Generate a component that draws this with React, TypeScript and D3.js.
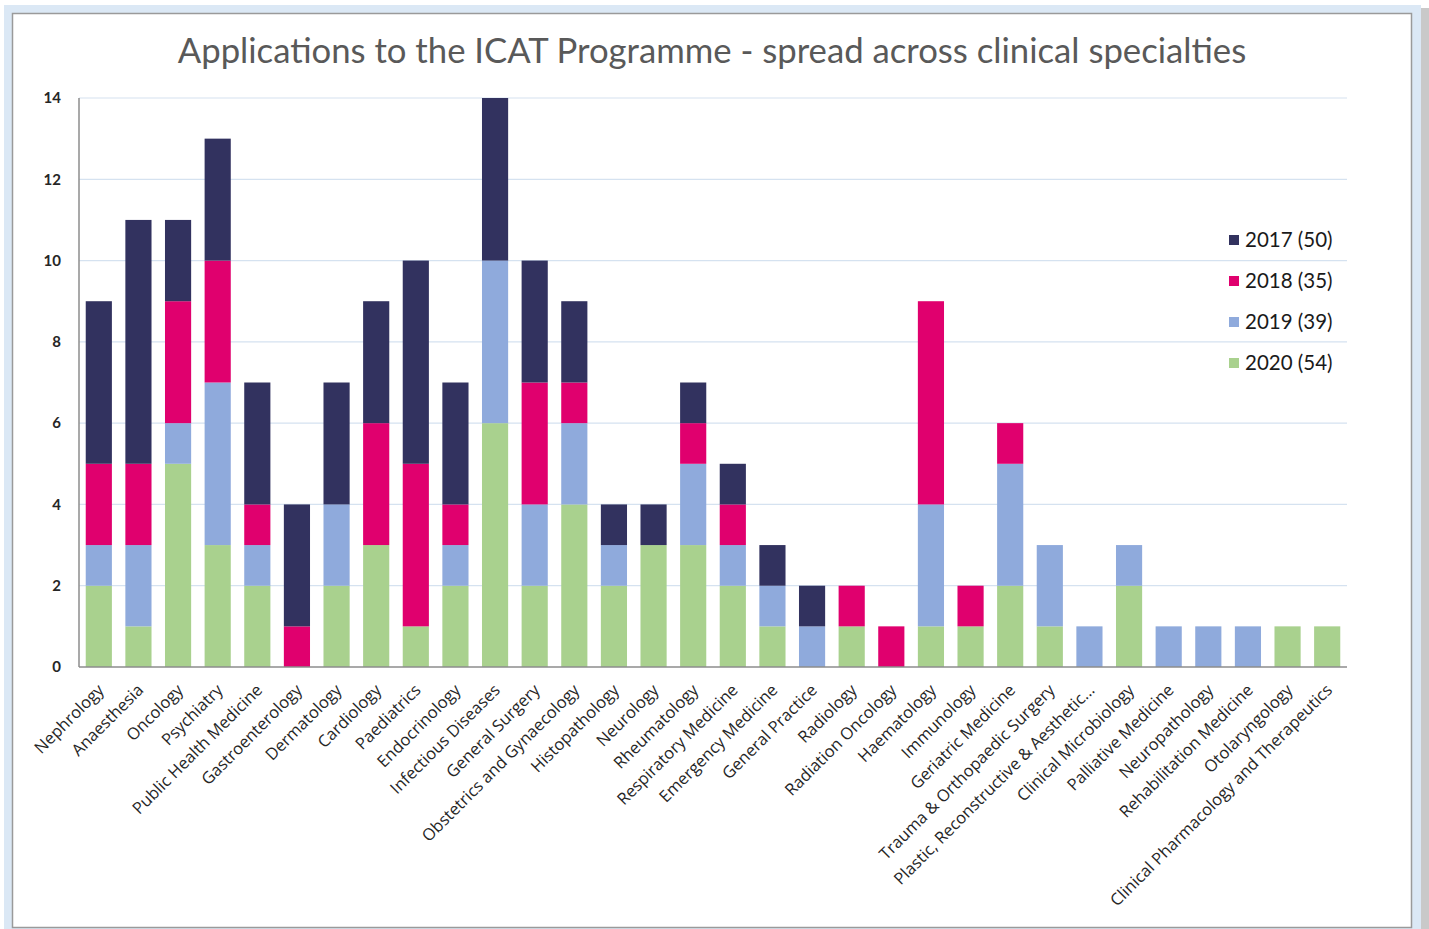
import { useEffect, useRef } from 'react';
import * as d3 from 'd3';

const specialties = [
  'Nephrology', 'Anaesthesia', 'Oncology', 'Psychiatry', 'Public Health Medicine',
  'Gastroenterology', 'Dermatology', 'Cardiology', 'Paediatrics', 'Endocrinology',
  'Infectious Diseases', 'General Surgery', 'Obstetrics and Gynaecology', 'Histopathology',
  'Neurology', 'Rheumatology', 'Respiratory Medicine', 'Emergency Medicine',
  'General Practice', 'Radiology', 'Radiation Oncology', 'Haematology', 'Immunology',
  'Geriatric Medicine', 'Trauma & Orthopaedic Surgery', 'Plastic, Reconstructive & Aesthetic...',
  'Clinical Microbiology', 'Palliative Medicine', 'Neuropathology', 'Rehabilitation Medicine',
  'Otolaryngology', 'Clinical Pharmacology and Therapeutics',
];

// stacked bottom to top: 2020, 2019, 2018, 2017
const y2020 = [2, 1, 5, 3, 2, 0, 2, 3, 1, 2, 6, 2, 4, 2, 3, 3, 2, 1, 0, 1, 0, 1, 1, 2, 1, 0, 2, 0, 0, 0, 1, 1];
const y2019 = [1, 2, 1, 4, 1, 0, 2, 0, 0, 1, 4, 2, 2, 1, 0, 2, 1, 1, 1, 0, 0, 3, 0, 3, 2, 1, 1, 1, 1, 1, 0, 0];
const y2018 = [2, 2, 3, 3, 1, 1, 0, 3, 4, 1, 0, 3, 1, 0, 0, 1, 1, 0, 0, 1, 1, 5, 1, 1, 0, 0, 0, 0, 0, 0, 0, 0];
const y2017 = [4, 6, 2, 3, 3, 3, 3, 3, 5, 3, 4, 3, 2, 1, 1, 1, 1, 1, 1, 0, 0, 0, 0, 0, 0, 0, 0, 0, 0, 0, 0, 0];

const seriesKeys = ['2020', '2019', '2018', '2017'];
const seriesColors = ['#a9d18e', '#8faadc', '#e0006e', '#32325f'];
const legendLabels = ['2017 (50)', '2018 (35)', '2019 (39)', '2020 (54)'];
const legendColors = ['#32325f', '#e0006e', '#8faadc', '#a9d18e'];
const yTicks = [0, 2, 4, 6, 8, 10, 12, 14];

const App = () => {
  const svgRef = useRef<SVGSVGElement>(null);

  useEffect(() => {
    document.body.style.margin = '0';
    if (!svgRef.current) return;

    const W = 1429;
    const H = 929;
    const plot = { left: 79, right: 1347, top: 98, bottom: 667 };

    const svg = d3.select(svgRef.current);
    svg.selectAll('*').remove();
    svg.attr('width', W).attr('height', H);

    // frame
    svg.append('rect').attr('x', 0).attr('y', 0).attr('width', W).attr('height', H).attr('fill', '#ffffff');
    svg.append('rect').attr('x', 1420).attr('y', 8).attr('width', 9).attr('height', H).attr('fill', '#c9c9c9');
    svg.append('rect').attr('x', 4).attr('y', 5).attr('width', 1417).attr('height', H).attr('fill', '#dbe8f5');
    svg.append('rect')
      .attr('x', 12.5).attr('y', 13.5).attr('width', 1399).attr('height', 914)
      .attr('fill', '#ffffff').attr('stroke', '#9a9a9a').attr('stroke-width', 1.5);

    const table = specialties.map((name, i) => ({
      name,
      '2020': y2020[i],
      '2019': y2019[i],
      '2018': y2018[i],
      '2017': y2017[i],
    }));

    const x = d3.scaleBand()
      .domain(specialties)
      .range([plot.left, plot.right])
      .paddingInner(0.34)
      .paddingOuter(0.17);

    const y = d3.scaleLinear().domain([0, 14]).range([plot.bottom, plot.top]);

    // grid
    svg.append('g')
      .selectAll('line')
      .data(yTicks.filter(t => t > 0))
      .enter()
      .append('line')
      .attr('x1', plot.left).attr('x2', plot.right)
      .attr('y1', d => y(d)).attr('y2', d => y(d))
      .attr('stroke', '#d5e2f0').attr('stroke-width', 1.2);

    // y tick labels
    svg.append('g')
      .selectAll('text')
      .data(yTicks)
      .enter()
      .append('text')
      .attr('x', 61)
      .attr('y', d => y(d))
      .attr('dy', '0.35em')
      .attr('text-anchor', 'end')
      .style('font-family', 'Lato, "Open Sans", sans-serif')
      .style('font-size', '15px')
      .style('font-weight', 'bold')
      .style('fill', '#262626')
      .text(d => d);

    // stacked bars
    const stacked = d3.stack<any>().keys(seriesKeys)(table);
    svg.append('g')
      .selectAll('g')
      .data(stacked)
      .enter()
      .append('g')
      .attr('fill', (_, i) => seriesColors[i])
      .selectAll('rect')
      .data(d => d)
      .enter()
      .append('rect')
      .attr('x', d => x(d.data.name)!)
      .attr('width', x.bandwidth())
      .attr('y', d => y(d[1]))
      .attr('height', d => y(d[0]) - y(d[1]));

    // axes lines
    svg.append('line')
      .attr('x1', plot.left).attr('x2', plot.left)
      .attr('y1', plot.top).attr('y2', plot.bottom)
      .attr('stroke', '#8c8c8c').attr('stroke-width', 1.5);
    svg.append('line')
      .attr('x1', plot.left).attr('x2', plot.right)
      .attr('y1', plot.bottom).attr('y2', plot.bottom)
      .attr('stroke', '#8c8c8c').attr('stroke-width', 1.5);

    // category labels
    svg.append('g')
      .selectAll('text')
      .data(specialties)
      .enter()
      .append('text')
      .attr('transform', d => `translate(${x(d)! + x.bandwidth() / 2 + 2},${plot.bottom + 20}) rotate(-45)`)
      .attr('text-anchor', 'end')
      .attr('dy', '0.35em')
      .style('font-family', '"Open Sans", Lato, sans-serif')
      .style('font-size', '16.5px')
      .style('fill', '#262626')
      .text(d => d);

    // title
    svg.append('text')
      .attr('x', 712)
      .attr('y', 63)
      .attr('text-anchor', 'middle')
      .style('font-family', 'Lato, "Open Sans", sans-serif')
      .style('font-size', '34.7px')
      .style('fill', '#595959')
      .text('Applications to the ICAT Programme - spread across clinical specialties');

    // legend
    legendLabels.forEach((label, i) => {
      const cy = 240 + i * 41;
      svg.append('rect')
        .attr('x', 1229).attr('y', cy - 5).attr('width', 10).attr('height', 10)
        .attr('fill', legendColors[i]);
      svg.append('text')
        .attr('x', 1245).attr('y', cy)
        .attr('dy', '0.35em')
        .style('font-family', 'Lato, "Open Sans", sans-serif')
        .style('font-size', '20.5px')
        .style('fill', '#1a1a1a')
        .text(label);
    });
  }, []);

  return <svg ref={svgRef} style={{ display: 'block' }}></svg>;
};

export default App;
